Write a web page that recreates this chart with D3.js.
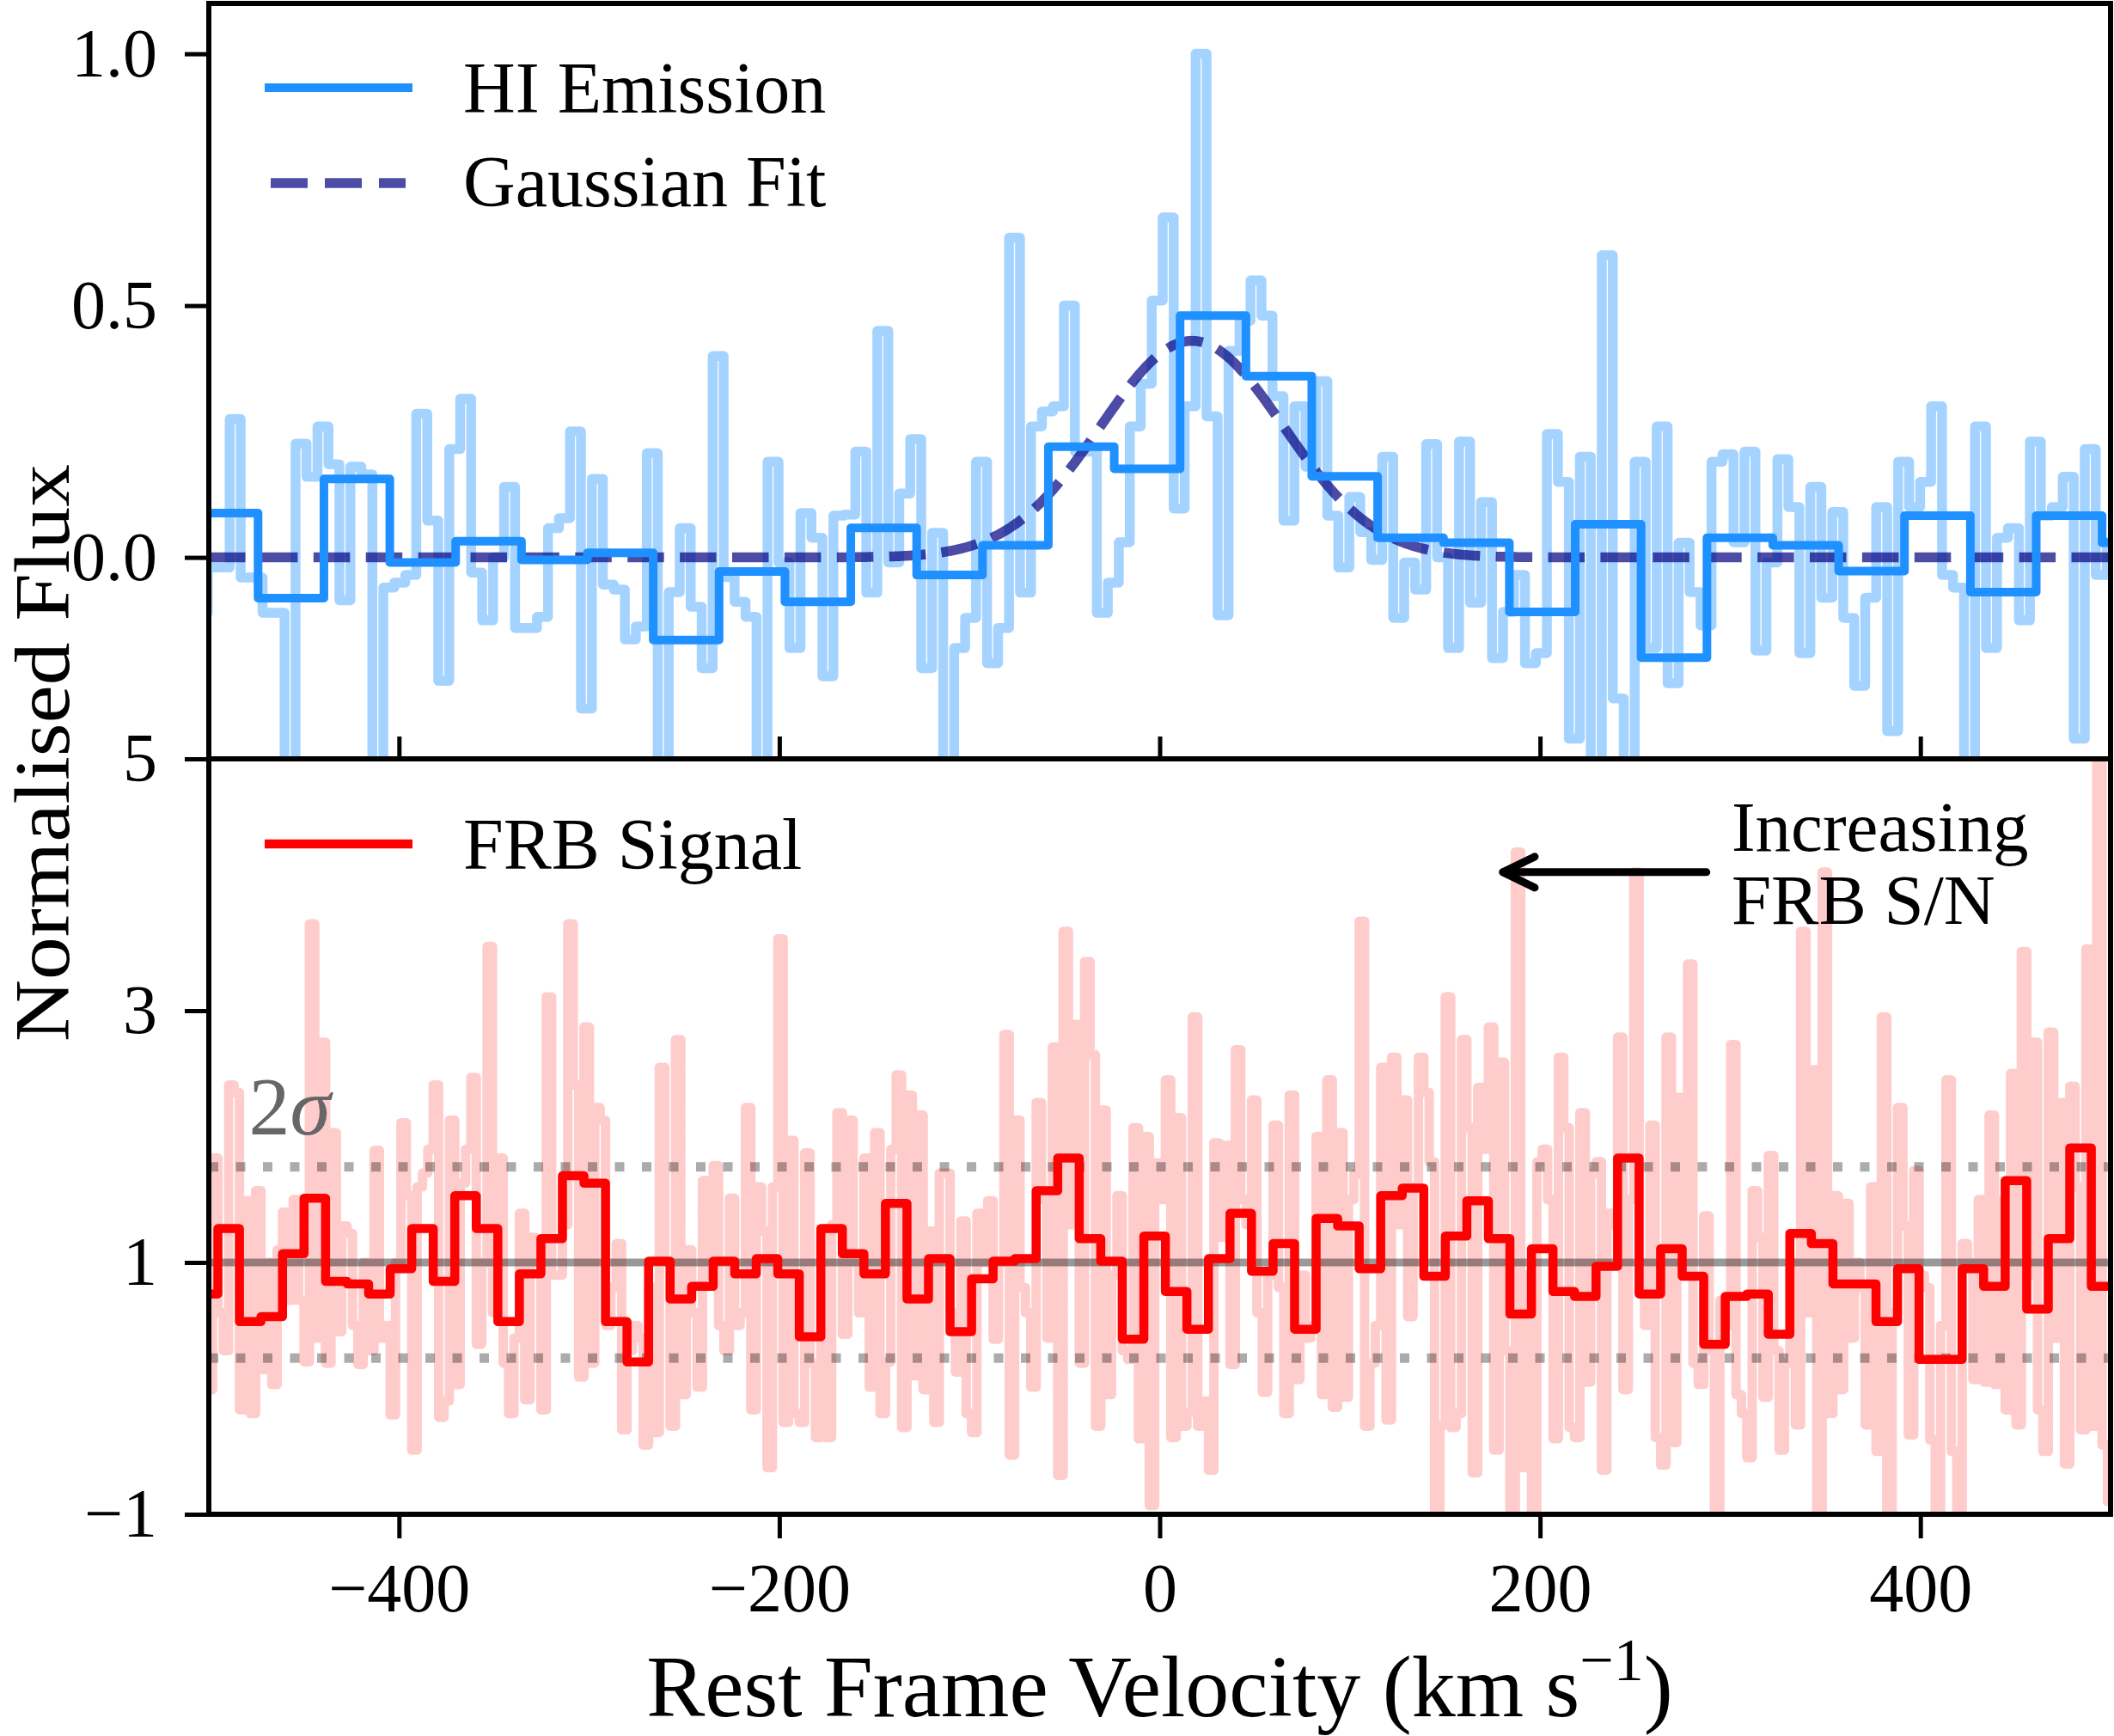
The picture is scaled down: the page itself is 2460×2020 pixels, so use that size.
<!DOCTYPE html>
<html><head><meta charset="utf-8">
<script src="https://cdn.jsdelivr.net/npm/d3@7"></script>
<style>body{margin:0;background:#fff}</style>
</head><body>
<svg id="c" width="2460" height="2020"></svg>
<script>
// ---------------- DATA ----------------
// HI raw channels (km/s grid start + channel width)
const hiRawStart = -506.35, hiRawWidth = 5.772;
const hiRaw = [
 -0.11,-0.02,-0.02,0.275,-0.04,-0.04,-0.11,-0.11,-0.45,0.226,
 0.16,0.26,0.185,-0.085,0.18,0.165,-0.45,-0.06,-0.05,-0.035,
 0.285,0.073,-0.245,0.215,0.315,-0.03,-0.125,0.0,0.14,-0.14,
 -0.14,-0.118,0.058,0.078,0.25,-0.30,0.156,-0.054,-0.064,-0.163,
 -0.137,0.207,-0.45,-0.069,0.058,-0.098,-0.22,0.40,-0.039,-0.088,
 -0.118,-0.45,0.19,-0.01,-0.18,0.088,0.039,-0.236,0.083,0.085,
 0.21,-0.07,0.45,-0.01,0.127,0.235,-0.22,0.049,-0.45,-0.18,
 -0.12,0.19,-0.21,-0.14,0.635,-0.07,0.26,0.29,0.30,0.50,
 0.21,0.21,-0.11,-0.05,0.03,0.26,0.345,0.51,0.675,0.097,
 0.30,1.0,0.28,-0.115,0.41,0.47,0.55,0.48,0.32,0.073,
 0.30,0.18,0.35,0.083,-0.02,0.12,0.05,-0.005,0.20,-0.12,
 -0.01,-0.064,0.225,0.0,-0.18,0.23,-0.09,0.11,-0.20,-0.108,
 -0.035,-0.21,-0.19,0.245,0.15,-0.36,0.20,-0.45,0.60,-0.28,
 -0.45,0.19,-0.18,0.26,-0.25,0.029,-0.069,-0.135,0.19,0.205,
 0.03,0.21,-0.185,-0.01,0.195,0.10,-0.19,0.14,-0.08,0.09,
 -0.12,-0.255,-0.08,0.10,-0.345,0.19,0.10,0.15,0.30,-0.035,
 -0.06,-0.45,0.26,-0.18,0.039,0.058,-0.125,0.23,0.083,0.10,
 0.16,-0.36,0.215,-0.035,0.03
];
// HI binned
const hiBinStart = -508.73, hiBinWidth = 34.63;
const hiBinned = [0.088,-0.081,0.156,-0.010,0.032,-0.005,0.009,-0.164,-0.028,-0.088,
 0.0585,-0.035,0.024,0.220,0.176,0.480,0.360,0.161,0.039,0.029,
 -0.108,0.066,-0.199,0.039,0.024,-0.027,0.083,-0.069,0.083,0.029];
// Gaussian fit parameters
const gaussAmp = 0.43, gaussMu = 17, gaussSigma = 48;

// FRB raw channels
const frbRawStart = -500.885, frbRawWidth = 2.8308;
const frbRaw = [
 -0.01,1.83,0.6,0.3,2.41,2.35,
 -0.17,1.49,-0.2,1.57, 0.15,1.0,0.03,1.1,
 1.4,0.7,1.5,0.7, 0.21,3.69,0.4,2.75,
 0.2,2.03,0.45,1.29, 1.23,0.5,0.19,1.0,
 0.3,1.89,0.4,0.5, -0.21,1.0,2.11,1.53,
 -0.49,1.6,1.71,1.9, 2.41,-0.23,-0.1,2.13,
 0.03,1.63,1.9,2.47, 0.35,1.0,3.51,0.6,
 1.83,0.2,-0.2,0.4, 1.39,-0.09,1.2,1.0,
 -0.17,3.11,0.9,0.9, 1.3,3.69,2.41,0.09,
 2.87,0.2,2.23,2.13, 0.5,0.8,1.15,-0.33,
 0.3,0.5,0.4,-0.45, 0.8,-0.35,2.55,1.0,
 -0.3,2.77,-0.05,1.1, 0.6,0.01,1.65,0.9,
 1.77,0.5,0.3,1.51, 0.5,0.6,2.23,-0.17,
 1.6,1.25,-0.63,1.6, 3.57,-0.27,1.97,-0.2,
 -0.27,1.87,0.2,-0.39, 1.2,-0.39,1.3,2.19,
 0.43,2.13,1.0,0.6, 1.83,0.01,2.03,-0.2,
 0.21,1.9,2.49,-0.31, 2.33,0.1,2.17,-0.01,
 1.25,-0.27,1.71,1.71, 0.6,0.13,1.33,-0.2,
 -0.35,1.39,1.0,1.49, 0.39,1.0,2.81,-0.53,
 2.13,0.8,0.6,0.01, 2.27,1.5,0.4,2.71,
 -0.69,3.63,1.3,2.89, 0.2,3.39,2.65,-0.3,
 2.21,-0.05,0.9,1.53, 0.3,0.23,2.07,-0.4,
 2.0,-0.93,1.79,1.5, 2.45,-0.39,2.15,-0.3,
 -0.19,2.95,-0.3,-0.1, -0.65,1.95,1.2,1.93,
 0.19,2.69,1.5,1.3, 2.29,0.6,-0.03,0.9,
 2.09,0.8,-0.2,2.33, 0.07,0.9,0.4,0.5,
 2.0,-0.05,2.45,-0.15, 2.03,-0.07,1.5,1.7,
 3.71,-0.3,0.2,0.5, 2.55,-0.25,2.63,1.3,
 2.29,0.57,1.6,2.63, 2.35,1.8,-0.97,-0.29,
 3.11,-0.31,-0.2,2.77, 2.07,-0.67,2.39,1.9,
 2.87,-0.49,2.59,0.3, -0.97,4.26,-0.63,0.9,
 -0.97,1.8,1.9,1.5, -0.4,2.63,2.07,-0.31,
 -0.39,2.19,0.05,1.71, 1.8,-0.65,1.39,1.3,
 2.79,-0.01,1.5,4.10, 1.0,0.5,2.09,-0.39,
 -0.61,2.79,-0.43,2.31, 0.9,3.37,0.2,0.03,
 1.37,0.3,-0.97,0.7, 0.5,2.73,-0.05,-0.2,
 -0.55,1.57,1.2,-0.07, 1.85,0.3,-0.49,0.2,
 1.0,-0.29,3.63,0.6, 2.53,-0.97,4.10,-0.2,
 1.53,-0.01,1.47,0.4, 1.0,0.8,-0.29,1.6,
 -0.5,2.95,-0.97,0.6, 2.23,1.29,-0.37,1.73,
 0.9,0.8,-0.41,-0.97, 0.5,2.45,-0.5,-0.97,
 1.15,1.0,0.07,1.5, 0.05,2.17,0.03,1.49,
 -0.17,2.5,-0.29,3.47, 0.9,2.75,-0.17,-0.5,
 2.83,0.4,2.27,-0.6, 2.4,1.6,-0.33,3.49,
 -0.3,5.2,-0.45,-0.9
];
// FRB binned
const frbBinStart = -506.546, frbBinWidth = 11.323;
const frbBinned = [0.75,1.27,0.53,0.57,1.07,1.51,0.85,0.83,0.75,0.95,
 1.27,0.85,1.53,1.27,0.53,0.91,1.19,1.69,1.63,0.53,
 0.21,1.01,0.71,0.81,1.01,0.91,1.03,0.91,0.41,1.27,
 1.07,0.91,1.47,0.71,1.03,0.45,0.87,1.01,1.03,1.57,
 1.83,1.19,1.01,0.39,1.21,0.77,0.47,1.03,1.39,0.93,
 1.15,0.47,1.35,1.29,0.95,1.53,1.59,0.89,1.21,1.49,
 1.19,0.59,1.11,0.77,0.73,0.97,1.83,0.75,1.11,0.89,
 0.35,0.73,0.75,0.43,1.23,1.15,0.83,0.83,0.53,0.95,
 0.23,0.23,0.95,0.81,1.65,0.63,1.19,1.91,0.81,2.07];
const frbMean = 1.0, frbTwoSigma = 0.76;

// ticks
const xTicks = [-400,-200,0,200,400];
const yTopTicks = [0.0,0.5,1.0];
const yBotTicks = [-1,1,3,5];

// ---------------- DRAW ----------------
const svg = d3.select('#c');
const FONT = '"Liberation Serif", "DejaVu Serif", serif';
svg.append('rect').attr('width',2460).attr('height',2020).attr('fill','#fff');
const L=243,R=2456,T1=4,B1=883,T2=883,B2=1762;
const x = d3.scaleLinear().domain([-500,500]).range([L,R]);
const yTop = d3.scaleLinear().domain([-0.4,1.1]).range([B1,T1]);
const yBot = d3.scaleLinear().domain([-1,5]).range([B2,T2]);

const defs = svg.append('defs');
defs.append('clipPath').attr('id','clipTop').append('rect').attr('x',L).attr('y',T1).attr('width',R-L).attr('height',B1-T1);
defs.append('clipPath').attr('id','clipBot').append('rect').attr('x',L).attr('y',T2).attr('width',R-L).attr('height',B2-T2);

function stepPts(start,w,vals){
  const p = vals.map((v,i)=>[start+i*w,v]);
  p.push([start+vals.length*w, vals[vals.length-1]]);
  return p;
}
const lineTop = d3.line().x(d=>x(d[0])).y(d=>yTop(d[1])).curve(d3.curveStepAfter);
const lineBot = d3.line().x(d=>x(d[0])).y(d=>yBot(d[1])).curve(d3.curveStepAfter);
const lineTopSmooth = d3.line().x(d=>x(d[0])).y(d=>yTop(d[1]));

// top panel
const gT = svg.append('g').attr('clip-path','url(#clipTop)');
gT.append('path').attr('d',lineTop(stepPts(hiRawStart,hiRawWidth,hiRaw)))
  .attr('fill','none').attr('stroke','#1E90FF').attr('stroke-opacity',0.4)
  .attr('stroke-width',11.5).attr('stroke-linejoin','round');
const gaussPts = d3.range(-500,500.5,1).map(v=>[v, gaussAmp*Math.exp(-((v-gaussMu)**2)/(2*gaussSigma*gaussSigma))]);
gT.append('path').attr('d',lineTopSmooth(gaussPts))
  .attr('fill','none').attr('stroke','#000080').attr('stroke-opacity',0.7)
  .attr('stroke-width',11.5).attr('stroke-dasharray','42.5,18.4');
gT.append('path').attr('d',lineTop(stepPts(hiBinStart,hiBinWidth,hiBinned)))
  .attr('fill','none').attr('stroke','#1E90FF')
  .attr('stroke-width',10).attr('stroke-linejoin','round');

// bottom panel
const gB = svg.append('g').attr('clip-path','url(#clipBot)');
gB.append('path').attr('d',lineBot(stepPts(frbRawStart,frbRawWidth,frbRaw)))
  .attr('fill','none').attr('stroke','#FF0000').attr('stroke-opacity',0.2)
  .attr('stroke-width',11).attr('stroke-linejoin','round');
gB.append('line').attr('x1',x(-500)).attr('x2',x(500)).attr('y1',yBot(frbMean)).attr('y2',yBot(frbMean))
  .attr('stroke','#000').attr('stroke-opacity',0.4).attr('stroke-width',9);
[frbMean+frbTwoSigma, frbMean-frbTwoSigma].forEach(v=>{
  gB.append('line').attr('x1',x(-500)).attr('x2',x(500)).attr('y1',yBot(v)).attr('y2',yBot(v))
    .attr('stroke','#000').attr('stroke-opacity',0.33).attr('stroke-width',11).attr('stroke-dasharray','11,20.5');
});
gB.append('path').attr('d',lineBot(stepPts(frbBinStart,frbBinWidth,frbBinned)))
  .attr('fill','none').attr('stroke','#FF0000')
  .attr('stroke-width',10.5).attr('stroke-linejoin','round');

// 2 sigma label
svg.append('text').attr('x',x(-479)).attr('y',yBot(2.02)).attr('fill','#666')
  .attr('font-family',FONT).attr('font-size',96)
  .html('2<tspan font-style="italic">σ</tspan>');

// arrow annotation
const ay = yBot(4.10);
const ag = svg.append('g').attr('stroke','#000').attr('stroke-width',9).attr('stroke-linecap','round').attr('fill','none');
ag.append('line').attr('x1',x(287.5)).attr('x2',x(180.5)).attr('y1',ay).attr('y2',ay);
ag.append('path').attr('d',`M${x(180.5)+37},${ay-18} L${x(180.5)},${ay} L${x(180.5)+37},${ay+18}`).attr('stroke-linejoin','round');
svg.append('text').attr('x',x(300.7)).attr('y',yBot(4.27)).attr('font-family',FONT).attr('font-size',83).text('Increasing');
svg.append('text').attr('x',x(300.7)).attr('y',yBot(3.69)).attr('font-family',FONT).attr('font-size',83).text('FRB S/N');

// legends
function legendLine(y, color, opts){
  const l = svg.append('line').attr('x1',opts.x1||308).attr('x2',opts.x2||480).attr('y1',y).attr('y2',y)
    .attr('stroke',color).attr('stroke-width',opts.w||10);
  if(opts.op) l.attr('stroke-opacity',opts.op);
  if(opts.dash) l.attr('stroke-dasharray',opts.dash);
}
legendLine(102,'#1E90FF',{});
svg.append('text').attr('x',539).attr('y',131).attr('font-family',FONT).attr('font-size',84).text('HI Emission');
legendLine(213,'#000080',{op:0.7,dash:'43,20',x1:315,x2:472,w:11.5});
svg.append('text').attr('x',539).attr('y',240).attr('font-family',FONT).attr('font-size',84).text('Gaussian Fit');
legendLine(982,'#FF0000',{w:10.5});
svg.append('text').attr('x',539).attr('y',1011).attr('font-family',FONT).attr('font-size',84).text('FRB Signal');

// axes
const fmtMinus = d => (d<0 ? '\u2212'+Math.abs(d) : ''+d);
function styleAxis(g){
  g.select('.domain').remove();
  g.selectAll('line').attr('stroke','#000').attr('stroke-width',5);
  g.selectAll('text').attr('font-family',FONT).attr('font-size',80).attr('fill','#000');
}
svg.append('g').attr('transform',`translate(0,${B2})`)
  .call(d3.axisBottom(x).tickValues(xTicks).tickSize(28).tickPadding(28).tickFormat(fmtMinus)).call(styleAxis);
svg.append('g').attr('transform',`translate(0,${B1})`)
  .call(d3.axisTop(x).tickValues(xTicks).tickSize(26).tickFormat('')).call(styleAxis);
svg.append('g').attr('transform',`translate(${L},0)`)
  .call(d3.axisLeft(yTop).tickValues(yTopTicks).tickSize(28).tickPadding(32).tickFormat(d3.format('.1f'))).call(styleAxis);
svg.append('g').attr('transform',`translate(${L},0)`)
  .call(d3.axisLeft(yBot).tickValues(yBotTicks).tickSize(28).tickPadding(32).tickFormat(fmtMinus)).call(styleAxis);

// frames
svg.append('rect').attr('x',L).attr('y',T1).attr('width',R-L).attr('height',B1-T1).attr('fill','none').attr('stroke','#000').attr('stroke-width',6);
svg.append('rect').attr('x',L).attr('y',T2).attr('width',R-L).attr('height',B2-T2).attr('fill','none').attr('stroke','#000').attr('stroke-width',6);

// axis labels
const xl = svg.append('text').attr('x',(L+R)/2).attr('y',1997).attr('text-anchor','middle')
  .attr('font-family',FONT).attr('font-size',102);
xl.append('tspan').text('Rest Frame Velocity (km s');
xl.append('tspan').attr('font-size',70).attr('dy',-42).text('\u22121');
xl.append('tspan').attr('dy',42).text(')');
svg.append('text').attr('transform','translate(80,876) rotate(-90)').attr('text-anchor','middle')
  .attr('font-family',FONT).attr('font-size',90)
  .attr('textLength',672).attr('lengthAdjust','spacingAndGlyphs').text('Normalised Flux');
</script>
</body></html>
